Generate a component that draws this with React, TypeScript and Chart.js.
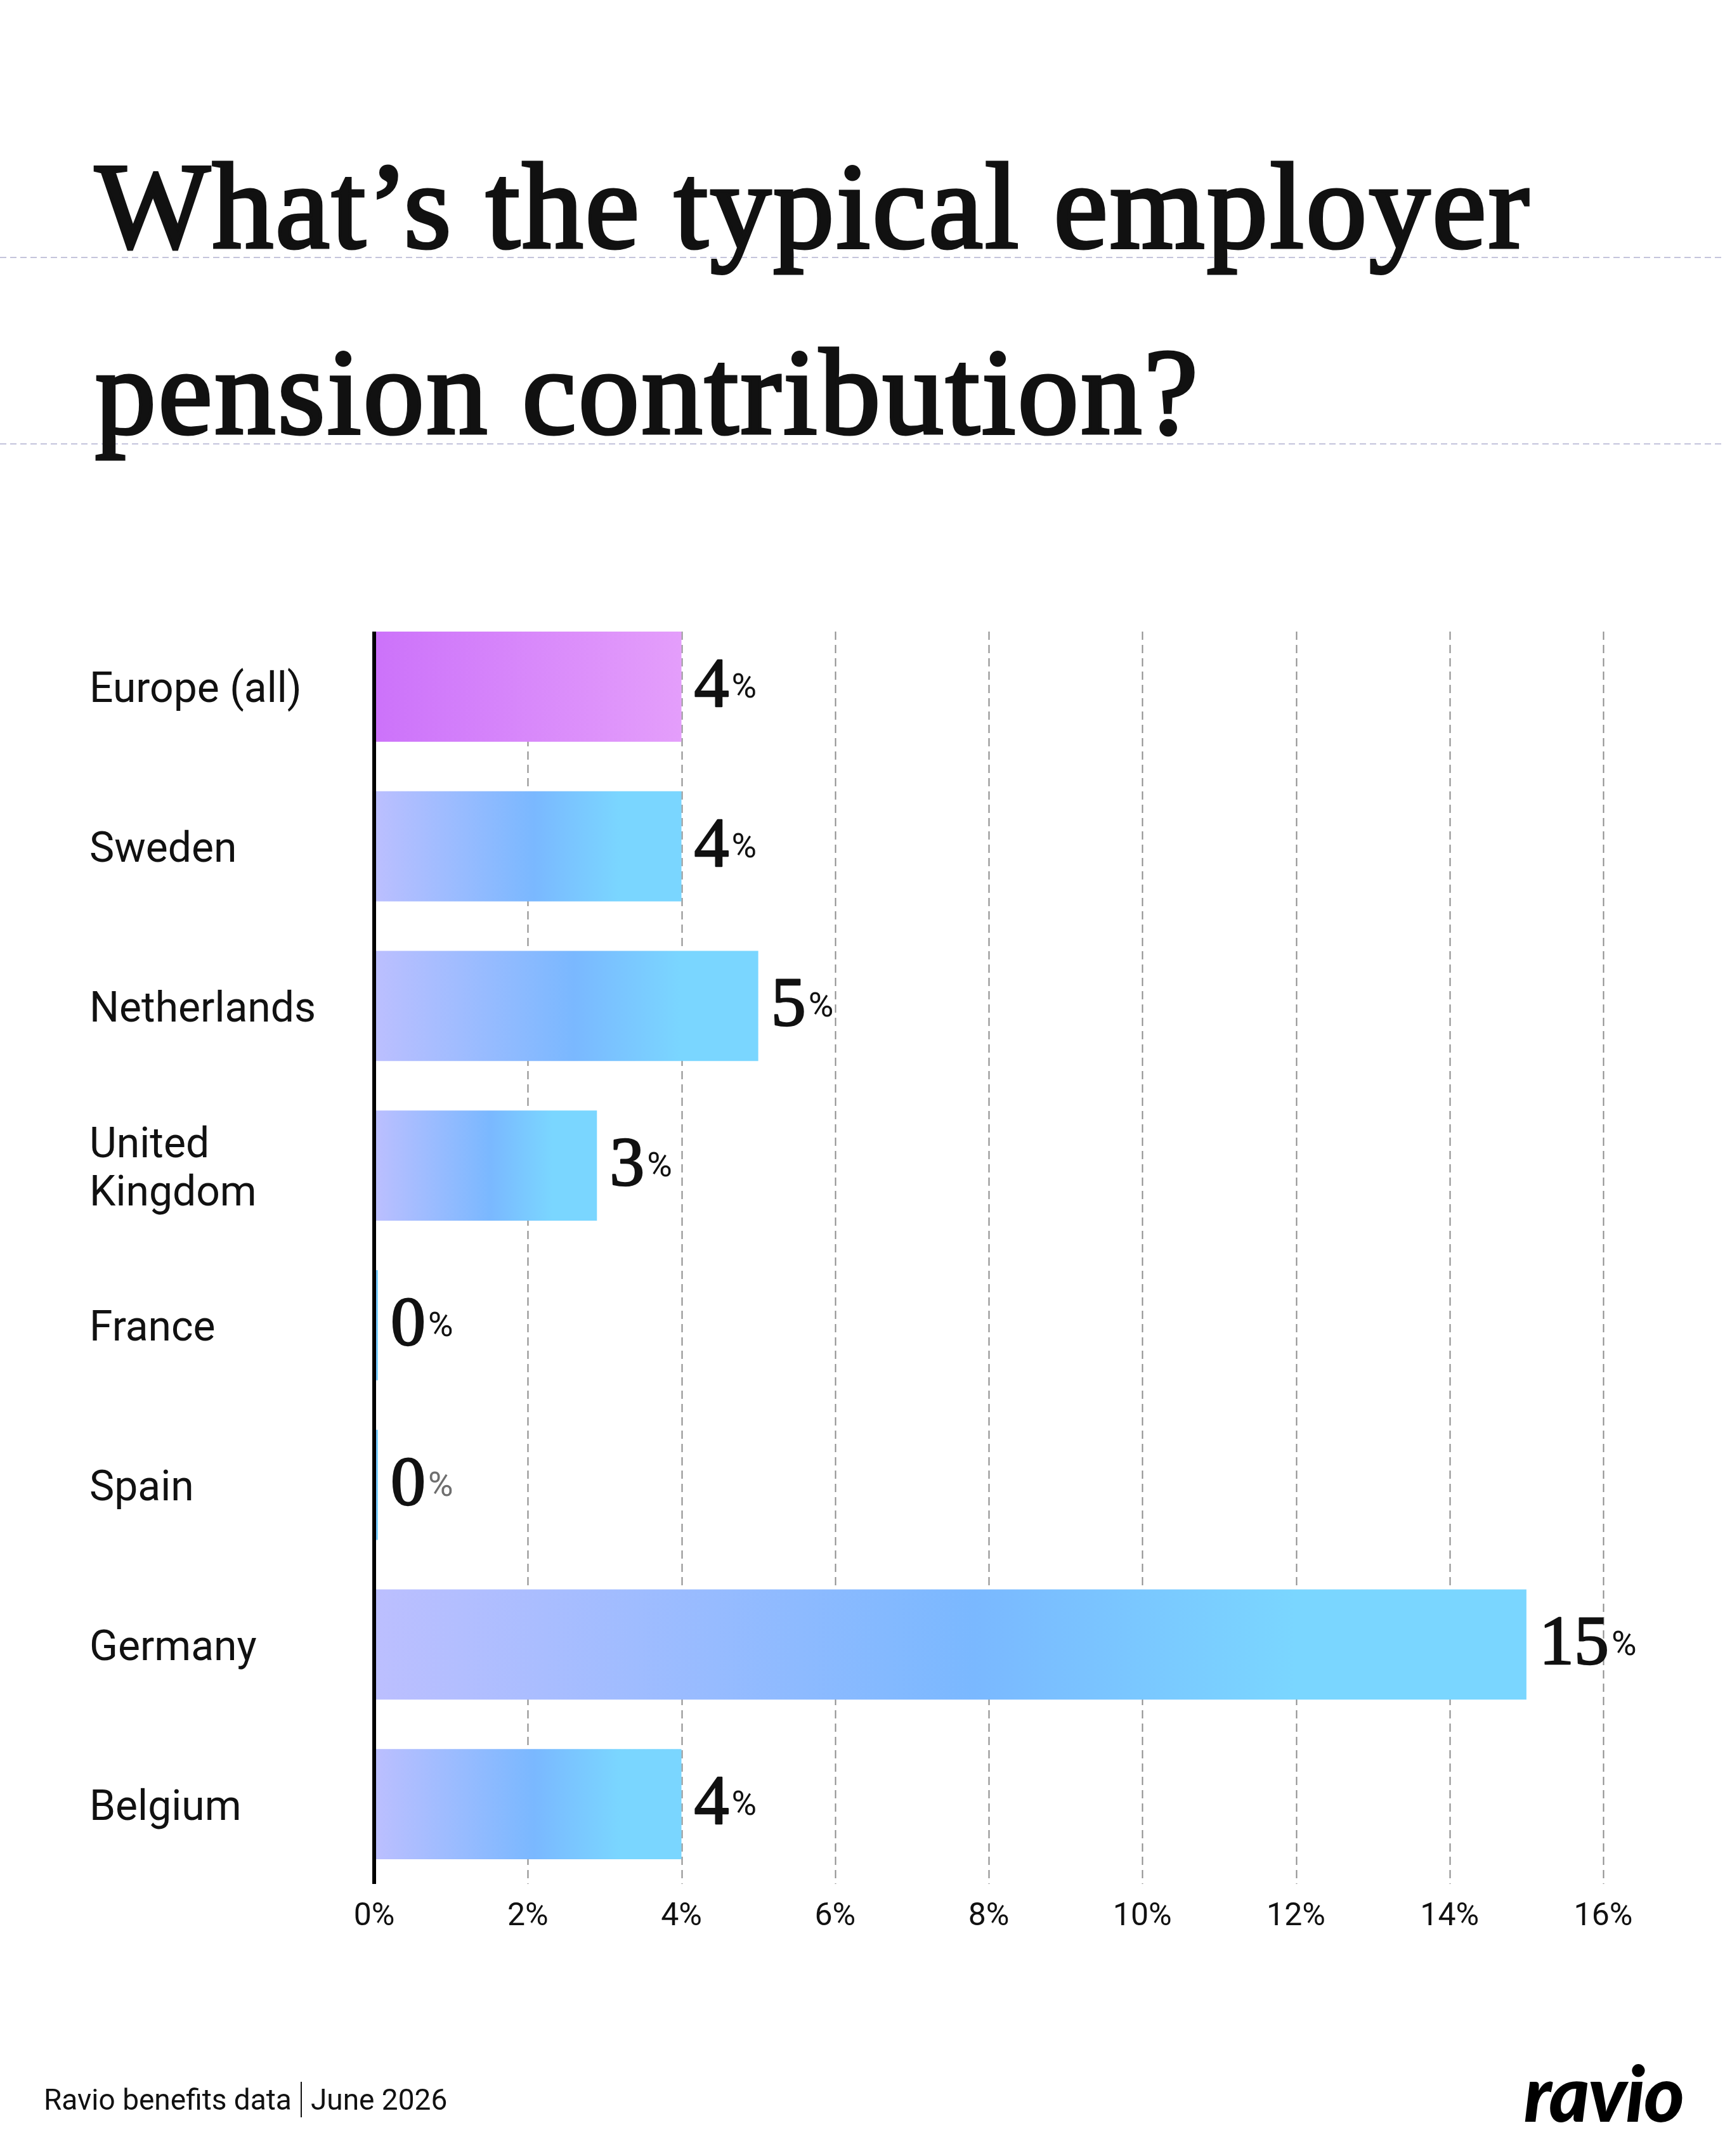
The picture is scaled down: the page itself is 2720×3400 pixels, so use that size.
import React, { useEffect, useRef } from "react";
import { Chart, registerables } from "chart.js";

Chart.register(...registerables);

const categories: (string | string[])[] = [
  "Europe (all)",
  "Sweden",
  "Netherlands",
  ["United", "Kingdom"],
  "France",
  "Spain",
  "Germany",
  "Belgium",
];
const contributionValues: number[] = [4, 4, 5, 2.9, 0, 0, 15, 4];
const xTickValues: number[] = [0, 2, 4, 6, 8, 10, 12, 14, 16];
const titleLines: string[] = ["What’s the typical employer", "pension contribution?"];
const sourceText = "Ravio benefits data";
const dateText = "June 2026";

const SANS = "Roboto, 'Noto Sans', sans-serif";
const SERIF = "'Liberation Serif', 'DejaVu Serif', serif";

const overlayPlugin = {
  id: "overlayPlugin",
  beforeDatasetsDraw(chart: any) {
    const { ctx, chartArea, scales } = chart;
    const meta = chart.getDatasetMeta(0);
    const first = meta.data[0];
    const top = first.y - first.height / 2;
    ctx.save();
    ctx.strokeStyle = "#8c8c8c";
    ctx.lineWidth = 2;
    ctx.setLineDash([13, 8]);
    xTickValues.forEach((v) => {
      if (v === 0) return;
      const x = Math.round(scales.x.getPixelForValue(v)) + 0.5;
      ctx.beginPath();
      ctx.moveTo(x, top);
      ctx.lineTo(x, chartArea.bottom);
      ctx.stroke();
    });
    ctx.restore();
  },
  afterDatasetsDraw(chart: any) {
    const { ctx, chartArea, scales } = chart;
    const meta = chart.getDatasetMeta(0);
    const first = meta.data[0];
    const top = first.y - first.height / 2;
    const x0 = scales.x.getPixelForValue(0);
    ctx.save();
    ctx.fillStyle = "#000";
    ctx.fillRect(x0 - 3, top, 6, chartArea.bottom - top);
    meta.data.forEach((el: any, i: number) => {
      const v = contributionValues[i];
      const num = String(Math.round(v));
      const x = el.x + 20;
      ctx.font = `110px ${SERIF}`;
      ctx.fillStyle = "#111";
      ctx.strokeStyle = "#111";
      ctx.lineWidth = 2.5;
      ctx.lineJoin = "round";
      ctx.textBaseline = "alphabetic";
      ctx.textAlign = "left";
      ctx.fillText(num, x, el.y + 31);
      ctx.strokeText(num, x, el.y + 31);
      const w = ctx.measureText(num).width;
      ctx.font = `54px ${SANS}`;
      ctx.fillStyle = i === 5 ? "#6e6e6e" : "#111";
      ctx.fillText("%", x + w + 4, el.y + 17);
    });
    ctx.restore();
  },
};

function ChartCanvas() {
  const ref = useRef<HTMLCanvasElement | null>(null);
  useEffect(() => {
    if (!ref.current) return;
    const chart = new Chart(ref.current, {
      type: "bar",
      data: {
        labels: categories,
        datasets: [
          {
            data: contributionValues,
            barPercentage: 0.69,
            categoryPercentage: 1,
            minBarLength: 6,
            borderWidth: 0,
            backgroundColor: (c: any) => {
              const chart = c.chart;
              const { ctx, chartArea, scales } = chart;
              if (!chartArea || c.type !== "data" || !scales.x) return "#7ab8ff";
              const x0 = scales.x.getPixelForValue(0);
              const x1 = Math.max(scales.x.getPixelForValue(c.raw), x0 + 6);
              const g = ctx.createLinearGradient(x0, 0, x1, 0);
              if (c.dataIndex === 0) {
                g.addColorStop(0, "#cc72fa");
                g.addColorStop(1, "#e49efb");
              } else {
                g.addColorStop(0, "#bcbfff");
                g.addColorStop(0.52, "#7ab8ff");
                g.addColorStop(0.8, "#7ad6ff");
                g.addColorStop(1, "#7ad6ff");
              }
              return g;
            },
          },
        ],
      },
      options: {
        indexAxis: "y",
        animation: false,
        responsive: false,
        maintainAspectRatio: false,
        layout: { padding: { left: 141, top: 957, right: 192, bottom: 329 } },
        plugins: {
          legend: { display: false },
          tooltip: { enabled: false },
          title: { display: false },
        },
        scales: {
          x: {
            type: "linear",
            min: 0,
            max: 16,
            grid: { display: false },
            border: { display: false },
            afterFit: (s: any) => {
              s.height = 100;
            },
            afterBuildTicks: (s: any) => {
              s.ticks = xTickValues.map((v) => ({ value: v }));
            },
            ticks: {
              padding: 14,
              color: "#111",
              font: { family: SANS, size: 50 },
              callback: (v: any) => `${v}%`,
            },
          },
          y: {
            grid: { display: false },
            border: { display: false },
            afterFit: (s: any) => {
              s.width = 449;
            },
            ticks: {
              crossAlign: "far",
              padding: 20,
              labelOffset: 8,
              color: "#111",
              font: { family: SANS, size: 66, lineHeight: 1.15 },
            },
          },
        },
      },
      plugins: [overlayPlugin],
    } as any);
    return () => chart.destroy();
  }, []);
  return (
    <canvas
      ref={ref}
      width={2720}
      height={3400}
      style={{ position: "absolute", left: 0, top: 0, width: 2720, height: 3400 }}
    />
  );
}

const dashed = (top: number): React.CSSProperties => ({
  position: "absolute",
  left: 0,
  top,
  width: 2720,
  height: 2,
  background: "repeating-linear-gradient(to right, #c4c4dc 0px, #c4c4dc 10px, transparent 10px, transparent 16px)",
});

export default function App() {
  return (
    <div
      style={{
        position: "absolute",
        left: 0,
        top: 0,
        width: 2720,
        height: 3400,
        background: "#fff",
        overflow: "hidden",
      }}
    >
      <div style={dashed(405)} />
      <div style={dashed(699)} />
      {titleLines.map((t, i) => (
        <div
          key={i}
          style={{
            position: "absolute",
            left: 150,
            top: i === 0 ? 231 : 524,
            fontFamily: SERIF,
            fontWeight: 400,
            fontSize: 192,
            lineHeight: "190px",
            letterSpacing: 3.5,
            color: "#111",
            WebkitTextStroke: "5px #111",
            whiteSpace: "nowrap",
          }}
        >
          {t}
        </div>
      ))}
      <ChartCanvas />
      <div
        style={{
          position: "absolute",
          left: 69,
          top: 3283,
          fontFamily: SANS,
          fontSize: 46,
          lineHeight: "46px",
          color: "#111",
          whiteSpace: "nowrap",
          display: "flex",
          alignItems: "center",
        }}
      >
        <span>{sourceText}</span>
        <span
          style={{
            display: "inline-block",
            width: 2,
            height: 56,
            background: "#111",
            margin: "0 14px",
          }}
        />
        <span>{dateText}</span>
      </div>
      <div
        style={{
          position: "absolute",
          right: 66,
          top: 3238,
          fontFamily: "Lato, sans-serif",
          fontWeight: 900,
          fontStyle: "italic",
          fontSize: 122,
          lineHeight: "122px",
          letterSpacing: -2,
          color: "#000",
          whiteSpace: "nowrap",
        }}
      >
        ravio
      </div>
    </div>
  );
}
